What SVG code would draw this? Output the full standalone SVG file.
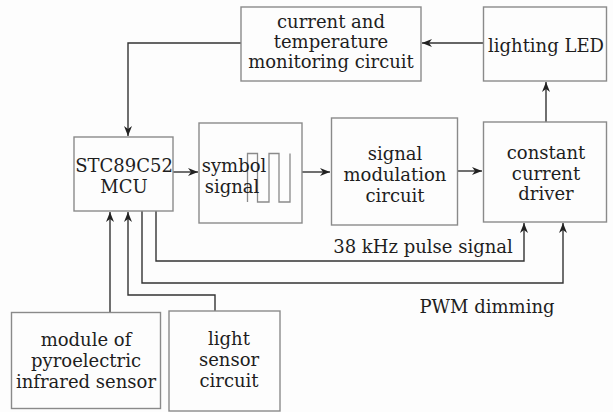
<svg xmlns="http://www.w3.org/2000/svg" width="613" height="412" viewBox="0 0 613 412">
<defs>
<marker id="ah" viewBox="0 0 10 8" refX="10" refY="4" markerWidth="10" markerHeight="8" markerUnits="userSpaceOnUse" orient="auto">
<path d="M0,0 L10,4 L0,8 L3,4 Z" fill="#222"/>
</marker>
<style>
.box{fill:none;stroke:#8a8a8a;stroke-width:1.4}
.t{font-family:"DejaVu Serif","Liberation Serif",serif;font-size:18px;fill:#1e1e1e;text-anchor:middle}
.c{fill:none;stroke:#333;stroke-width:1.4}
.w{fill:none;stroke:#8a8a8a;stroke-width:1.3}
</style>
</defs>
<rect width="613" height="412" fill="#fdfdfd"/>
<g id="connectors">
<path class="c" d="M483,43 L422,43" marker-end="url(#ah)"/>
<path class="c" d="M241,43 L128,43 L128,136" marker-end="url(#ah)"/>
<path class="c" d="M546,122 L546,82" marker-end="url(#ah)"/>
<path class="c" d="M173,172 L198,172" marker-end="url(#ah)"/>
<path class="c" d="M302,172 L330,172" marker-end="url(#ah)"/>
<path class="c" d="M457,171 L482,171" marker-end="url(#ah)"/>
<path class="c" d="M156,211 L156,261 L524,261 L524,223" marker-end="url(#ah)"/>
<path class="c" d="M142,211 L142,283 L563,283 L563,223" marker-end="url(#ah)"/>
<path class="c" d="M110,312 L110,212" marker-end="url(#ah)"/>
<path class="c" d="M215,311 L215,295 L128,295 L128,212" marker-end="url(#ah)"/>
</g>
<g id="current-temp">
<rect class="box" x="241" y="7" width="180" height="74"/>
<text class="t" x="331" y="28">current and</text>
<text class="t" x="331" y="48">temperature</text>
<text class="t" x="331" y="68">monitoring circuit</text>
</g>
<g id="lighting-led">
<rect class="box" x="483.5" y="7" width="123" height="74"/>
<text class="t" x="546" y="52">lighting LED</text>
</g>
<g id="mcu">
<rect class="box" x="74" y="137" width="99" height="74"/>
<text class="t" x="124" y="172">STC89C52</text>
<text class="t" x="124" y="193">MCU</text>
</g>
<g id="symbol-signal">
<rect class="box" x="199" y="123" width="103" height="100"/>
<path class="w" d="M247.5,202 L247.5,153.5 L257.5,153.5 L257.5,202 L269,202 L269,153.5 L279,153.5 L279,202 L290,202 L290,153.5"/>
<text class="t" x="234" y="172">symbol</text>
<text class="t" x="232" y="193">signal</text>
</g>
<g id="modulation">
<rect class="box" x="331.5" y="118" width="126" height="107"/>
<text class="t" x="395" y="160">signal</text>
<text class="t" x="395" y="181">modulation</text>
<text class="t" x="395" y="202">circuit</text>
</g>
<g id="driver">
<rect class="box" x="483.5" y="122" width="123" height="100"/>
<text class="t" x="546" y="159">constant</text>
<text class="t" x="546" y="180">current</text>
<text class="t" x="546" y="200">driver</text>
</g>
<g id="labels">
<text class="t" x="423" y="253">38 kHz pulse signal</text>
<text class="t" x="487" y="313">PWM dimming</text>
</g>
<g id="pyro">
<rect class="box" x="11.5" y="312.5" width="149" height="96"/>
<text class="t" x="86" y="346">module of</text>
<text class="t" x="86" y="367">pyroelectric</text>
<text class="t" x="86" y="388">infrared sensor</text>
</g>
<g id="light-sensor">
<rect class="box" x="169" y="311" width="111" height="100"/>
<text class="t" x="229" y="345">light</text>
<text class="t" x="229" y="366">sensor</text>
<text class="t" x="229" y="387">circuit</text>
</g>
</svg>
